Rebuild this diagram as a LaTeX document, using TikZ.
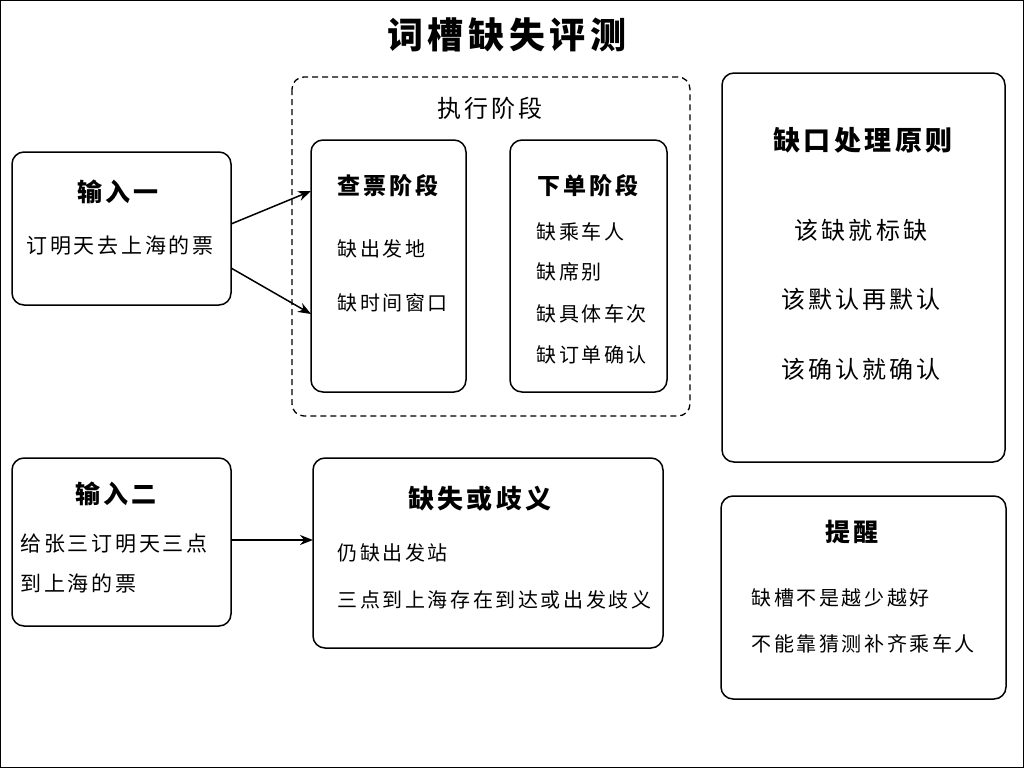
\documentclass[tikz,border=0pt]{standalone}
\usepackage{fontspec}
\setmainfont{Noto Sans CJK SC}[LetterSpace=13]
\usetikzlibrary{arrows.meta}
\begin{document}
\begin{tikzpicture}[x=1pt,y=-1pt,
 box/.style={draw,line width=1.5pt,rounded corners=12pt},
 ttl/.style={font=\fontsize{25}{28}\selectfont\bfseries},
 txt/.style={font=\fontsize{20}{24}\selectfont,anchor=west},
 ctr/.style={font=\fontsize{22}{26}\selectfont},
 arr/.style={line width=1.5pt,-{Stealth[length=13pt,width=10pt]}}]
\useasboundingbox (0,0) rectangle (1024,768);
\draw[line width=1pt] (0.5,0.5) rectangle (1023.5,767.5);
\node[font=\fontsize{36}{40}\selectfont\bfseries] (title) at (507,35) {词槽缺失评测};
% input 1
\draw[box] (12,152) rectangle (231,305);
\coordinate (i1a) at (231,224); \coordinate (i1b) at (231,268);
\node[ttl] (i1t) at (118,192) {输入一};
\node[ctr,font=\fontsize{21}{24}\selectfont] (i1x) at (120,246) {订明天去上海的票};
% exec
\draw[line width=1.3pt,dash pattern=on 6pt off 4pt,rounded corners=12pt] (292,77) rectangle (690,416);
\node[font=\fontsize{24}{28}\selectfont] (ex) at (490,108) {执行阶段};
\draw[box] (311,140) rectangle (466,392);
\coordinate (c1) at (311,191); \coordinate (c2) at (311,314);
\node[ttl,font=\fontsize{23}{26}\selectfont\bfseries] (ct) at (388,186) {查票阶段};
\node[txt] (c1t) at (334,249) {缺出发地};
\node[txt] (c2t) at (334,303) {缺时间窗口};
\draw[box] (510,140) rectangle (667,392);
\node[ttl,font=\fontsize{23}{26}\selectfont\bfseries] (ot) at (588,186) {下单阶段};
\node[txt] (o1) at (533,232) {缺乘车人};
\node[txt] (o2) at (533,272) {缺席别};
\node[txt] (o3) at (533,314) {缺具体车次};
\node[txt] (o4) at (533,355) {缺订单确认};
% principles
\draw[box] (722,73) rectangle (1005,462);
\node[ttl,font=\fontsize{27}{30}\selectfont\bfseries] (pt) at (863,140) {缺口处理原则};
\node[ctr,font=\fontsize{24}{28}\selectfont] (p1) at (861,230) {该缺就标缺};
\node[ctr,font=\fontsize{24}{28}\selectfont] (p2) at (861,299) {该默认再默认};
\node[ctr,font=\fontsize{24}{28}\selectfont] (p3) at (861,369) {该确认就确认};
% input 2
\draw[box] (12,458) rectangle (231,626);
\coordinate (i2) at (231,540);
\node[ttl] (i2t) at (116,494) {输入二};
\node[txt,font=\fontsize{21}{24}\selectfont] (i2a) at (17,544) {给张三订明天三点};
\node[txt,font=\fontsize{21}{24}\selectfont] (i2b) at (17,583) {到上海的票};
% missing
\draw[box] (313,458) rectangle (663,648);
\coordinate (m) at (313,540);
\node[ttl,font=\fontsize{26}{30}\selectfont\bfseries] (mt) at (480,499) {缺失或歧义};
\node[txt] (m1) at (334,553) {仍缺出发站};
\node[txt] (m2) at (334,600) {三点到上海存在到达或出发歧义};
% reminder
\draw[box] (721,496) rectangle (1006,699);
\node[ttl] (rt) at (852,532) {提醒};
\node[txt] (r1) at (748,598) {缺槽不是越少越好};
\node[txt] (r2) at (748,644) {不能靠猜测补齐乘车人};
% arrows
\draw[arr] (i1a) -- (c1);
\draw[arr] (i1b) -- (c2);
\draw[arr] (i2) -- (m);
\end{tikzpicture}
\end{document}
